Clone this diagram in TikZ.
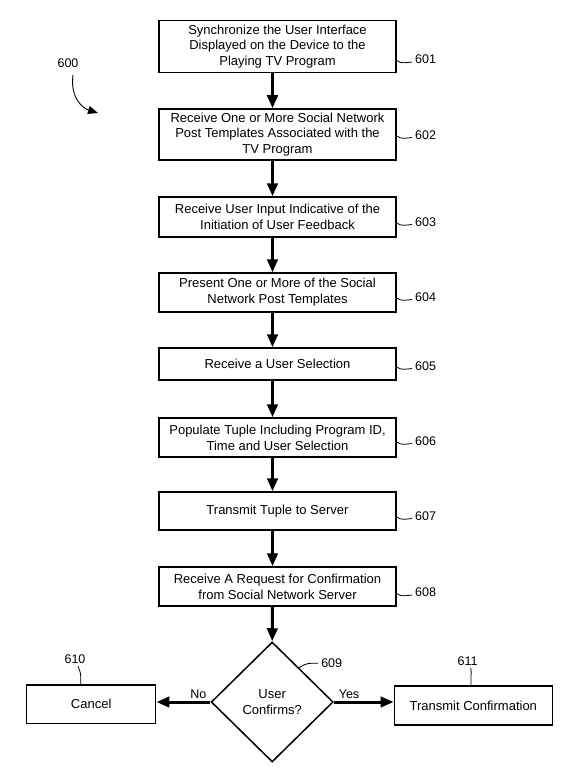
\documentclass[tikz,border=0pt]{standalone}
\usepackage{fontspec}
\setmainfont{Liberation Sans}
\usetikzlibrary{arrows.meta,shapes.geometric}
\begin{document}
\begin{tikzpicture}[x=1pt,y=-1pt,
  stepbox/.style={draw, line width=1.5pt, align=center, inner sep=0pt,
    minimum width=237pt, font=\fontsize{13}{15.8}\selectfont},
  sidebox/.style={draw, line width=1.5pt, align=center, inner sep=0pt,
    font=\fontsize{13}{15.8}\selectfont},
  flow/.style={line width=3pt, -{Triangle[length=13pt,width=10.5pt]}},
  reflab/.style={font=\fontsize{12.5}{14}\selectfont, inner sep=0pt},
  lead/.style={line width=0.8pt},
  curl/.style={line width=0.9pt, -{Triangle[length=10pt,width=8pt]}}]
\useasboundingbox (0,0) rectangle (564,770);
\coordinate (ax) at (272.5,0);
% boxes
\node[stepbox, minimum height=51.6pt] (b1) at (277.5,46.5) {Synchronize the User Interface\\Displayed on the Device to the\\Playing TV Program};
\node[stepbox, minimum height=51pt] (b2) at (277.5,134.5) {Receive One or More Social Network\\Post Templates Associated with the\\TV Program};
\node[stepbox, minimum height=40pt] (b3) at (277.5,217) {Receive User Input Indicative of the\\Initiation of User Feedback};
\node[stepbox, minimum height=39pt] (b4) at (277.5,292.5) {Present One or More of the Social\\Network Post Templates};
\node[stepbox, minimum height=32pt] (b5) at (277.5,364) {Receive a User Selection};
\node[stepbox, minimum height=39pt] (b6) at (277.5,437.5) {Populate Tuple Including Program ID,\\Time and User Selection};
\node[stepbox, minimum height=38pt] (b7) at (277.5,511) {Transmit Tuple to Server};
\node[stepbox, minimum height=39pt] (b8) at (277.5,586.5) {Receive A Request for Confirmation\\from Social Network Server};
\node[draw, diamond, line width=1.5pt, inner sep=0pt, minimum width=122pt, minimum height=120pt,
  align=center, font=\fontsize{13}{15.8}\selectfont] (d) at (272.2,702) {User\\Confirms?};
\node[sidebox, minimum width=129pt, minimum height=38.5pt] (cancel) at (91.2,704.2) {Cancel};
\node[sidebox, minimum width=158pt, minimum height=39pt] (trans) at (473.3,705.5) {Transmit Confirmation};
% flow arrows
\draw[flow] (b1.south -| ax) -- (b2.north -| ax);
\draw[flow] (b2.south -| ax) -- (b3.north -| ax);
\draw[flow] (b3.south -| ax) -- (b4.north -| ax);
\draw[flow] (b4.south -| ax) -- (b5.north -| ax);
\draw[flow] (b5.south -| ax) -- (b6.north -| ax);
\draw[flow] (b6.south -| ax) -- (b7.north -| ax);
\draw[flow] (b7.south -| ax) -- (b8.north -| ax);
\draw[flow] (b8.south -| ax) -- (d.north);
\draw[flow] (d.west) -- (cancel.east |- d.west);
\draw[flow] (d.east) -- (trans.west |- d.east);
\node[reflab, anchor=south] (no) at (198.3,699) {No};
\node[reflab, anchor=south] (yes) at (349,699) {Yes};
% reference labels
\node[reflab, anchor=west] (l1) at (415,59.5) {601};
\node[reflab, anchor=west] (l2) at (415,135) {602};
\node[reflab, anchor=west] (l3) at (415,222) {603};
\node[reflab, anchor=west] (l4) at (415,297) {604};
\node[reflab, anchor=west] (l5) at (415,366) {605};
\node[reflab, anchor=west] (l6) at (415,441) {606};
\node[reflab, anchor=west] (l7) at (415,516) {607};
\node[reflab, anchor=west] (l8) at (415,592.5) {608};
\foreach \i in {1,...,8}{
  \draw[lead] (b\i.east |- l\i.west) ++(0,1) .. controls +(4,3.5) and +(-5,0.5) .. ([shift={(-3,2.5)}]l\i.west);
}
\node[reflab] (l9) at (331.7,662.7) {609};
\draw[lead] (299,668) .. controls (305,663) and (310,663) .. ([shift={(-3,0.5)}]l9.west);
\node[reflab] (l10) at (75,659.5) {610};
\draw[lead] (cancel.north -| 80.7,0) -- ++(0,-8) .. controls +(0,-4) and +(1,3) .. ([shift={(3,2)}]l10.south);
\node[reflab] (l11) at (467.7,661.3) {611};
\draw[lead] (trans.north -| 471,0) -- ++(0,-8) .. controls +(0,-4) and +(1,3) .. ([shift={(3,2)}]l11.south);
% 600
\node[reflab] (n600) at (68,63) {600};
\coordinate (c600) at (98,113);
\draw[curl] (73,75) .. controls (70,97) and (82,108) .. (c600);
\end{tikzpicture}
\end{document}
